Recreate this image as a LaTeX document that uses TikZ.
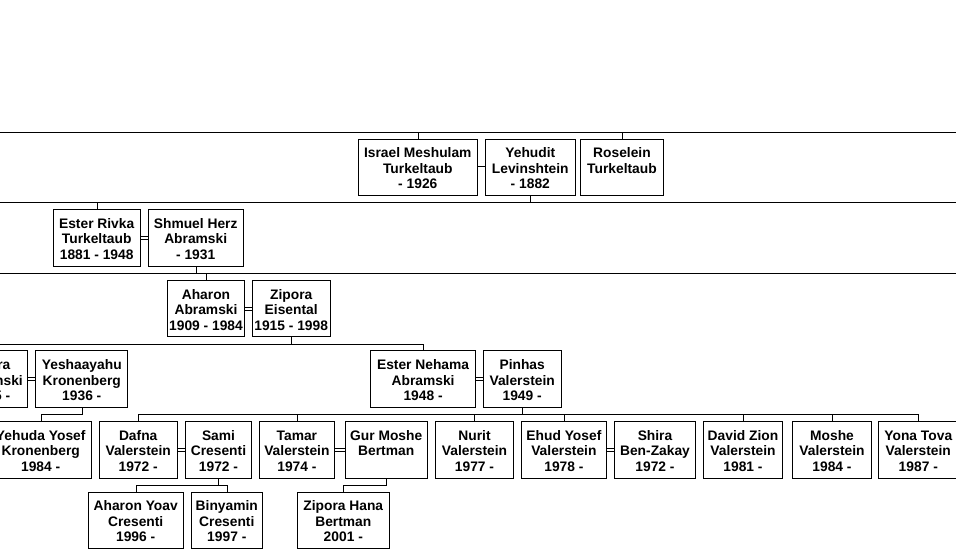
\documentclass[tikz,border=0pt]{standalone}
\usepackage{fontspec}
\setmainfont{Liberation Sans}
\usetikzlibrary{scopes}
\tikzset{
  x=1pt, y=-1pt,
  pb/.style={rectangle, draw, line width=1pt, align=center, inner xsep=0.5pt,
    inner ysep=0pt, minimum height=56.5, minimum width=#1,
    text height=42.8pt, text depth=0pt,
    font=\fontsize{13.8}{15.5}\selectfont\bfseries},
  sp/.style={draw, line width=0.9pt, double, double distance=2pt}
}
\begin{document}
\begin{tikzpicture}[fl/.style={line width=1pt}]
  \useasboundingbox (0,0) rectangle (956,557);
  \clip (0,0) rectangle (956,557);
  % generation 1
  \node[pb=119] (israel) at (417.8,167.5) {Israel Meshulam\\Turkeltaub\\- 1926};
  \node[pb=90] (yehudit) at (530.3,167.5) {Yehudit\\Levinshtein\\- 1882};
  \node[pb=82.6] (roselein) at (622,167.5) {Roselein\\Turkeltaub\\~};
  % generation 2
  \node[pb=86.7] (esterR) at (96.7,238) {Ester Rivka\\Turkeltaub\\1881 - 1948};
  \node[pb=94.7] (shmuel) at (195.7,238) {Shmuel Herz\\Abramski\\- 1931};
  % generation 3
  \node[pb=77.4] (aharon) at (206,308.6) {Aharon\\Abramski\\1909 - 1984};
  \node[pb=77.7] (zipora) at (291.2,308.6) {Zipora\\Eisental\\1915 - 1998};
  % generation 4
  \node[pb=0, inner xsep=5pt, align=right, anchor=east] (sib) at (28.3,379.2)
    {ra\hspace*{12.5pt}\\nski\\5 -\hspace*{12.5pt}};
  \node[pb=91.7] (yeshaayahu) at (81.8,379.2) {Yeshaayahu\\Kronenberg\\1936 -};
  \node[pb=104.8] (esterN) at (423.1,379.2) {Ester Nehama\\Abramski\\1948 -};
  \node[pb=77.7] (pinhas) at (522.2,379.2) {Pinhas\\Valerstein\\1949 -};
  % generation 5
  \node[pb=101.3] (yehuda) at (40.7,449.8) {Yehuda Yosef\\Kronenberg\\1984 -};
  \node[pb=77.7] (dafna) at (138.2,449.8) {Dafna\\Valerstein\\1972 -};
  \node[pb=65.6] (sami) at (218.5,449.8) {Sami\\Cresenti\\1972 -};
  \node[pb=74.3] (tamar) at (296.9,449.8) {Tamar\\Valerstein\\1974 -};
  \node[pb=81.7] (gur) at (386.2,449.8) {Gur Moshe\\Bertman\\~};
  \node[pb=77.6] (nurit) at (474.5,449.8) {Nurit\\Valerstein\\1977 -};
  \node[pb=84.3] (ehud) at (563.9,449.8) {Ehud Yosef\\Valerstein\\1978 -};
  \node[pb=81.4] (shira) at (655,449.8) {Shira\\Ben-Zakay\\1972 -};
  \node[pb=79.4] (david) at (743,449.8) {David Zion\\Valerstein\\1981 -};
  \node[pb=79.4] (moshe) at (832,449.8) {Moshe\\Valerstein\\1984 -};
  \node[pb=80] (yona) at (918.3,449.8) {Yona Tova\\Valerstein\\1987 -};
  % generation 6
  \node[pb=94.7] (aharonY) at (135.7,520.4) {Aharon Yoav\\Cresenti\\1996 -};
  \node[pb=71] (binyamin) at (226.8,520.4) {Binyamin\\Cresenti\\1997 -};
  \node[pb=92] (ziporaH) at (343.3,520.4) {Zipora Hana\\Bertman\\2001 -};

  % family lines
  \coordinate (l1) at (0,132.3);  \coordinate (r1) at (956,132.3);
  \coordinate (l2) at (0,202.3);  \coordinate (r2) at (956,202.3);
  \coordinate (l3) at (0,273);    \coordinate (r3) at (956,273);
  \coordinate (l4) at (0,344);
  \coordinate (l5) at (0,414.3);
  \coordinate (l6) at (0,485);

  \begin{scope}[every path/.style=sp]
  \path (israel) -- (yehudit);
  \path (esterR) -- (shmuel);
  \path (aharon) -- (zipora);
  \path (sib) -- (yeshaayahu);
  \path (esterN) -- (pinhas);
  \path (dafna) -- (sami);
  \path (tamar) -- (gur);
  \path (ehud) -- (shira);
  \end{scope}
  {[fl]
  \draw (l1) -- (r1);
  \draw (israel) -- (israel |- l1);
  \draw (roselein) -- (roselein |- l1);
  \draw (l2) -- (r2);
  \draw (yehudit) -- (yehudit |- l2);
  \draw (esterR) -- (esterR |- l2);
  \draw (l3) -- (r3);
  \draw (shmuel) -- (shmuel |- l3);
  \draw (aharon) -- (aharon |- l3);
  \draw (zipora) -- (zipora |- l4);
  \draw (l4) -| (esterN);
  \draw (yeshaayahu) -- (yeshaayahu |- l5) -| (yehuda);
  \draw (pinhas) -- (pinhas |- l5);
  \draw (dafna) -- (dafna |- l5) -| (yona);
  \foreach \k in {tamar,nurit,ehud,david,moshe}
    \draw (\k) -- (\k |- l5);
  \draw (sami) -- (sami |- l6);
  \draw (aharonY) -- (aharonY |- l6) -| (binyamin);
  \draw (gur) -- (gur |- l6) -| (ziporaH);
  }
\end{tikzpicture}
\end{document}
